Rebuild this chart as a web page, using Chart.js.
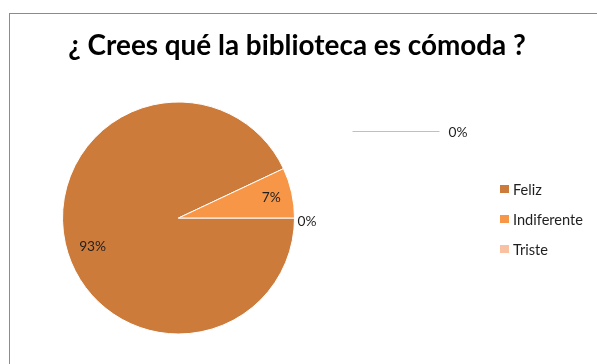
<!DOCTYPE html>
<html>
<head>
<meta charset="utf-8">
<script src="https://cdn.jsdelivr.net/npm/chart.js@4/dist/chart.umd.min.js"></script>
<style>
  html, body { margin: 0; padding: 0; background: #ffffff; }
  #frame { position: absolute; left: 9px; top: 13px; width: 600px; height: 360px;
           border-left: 1px solid #8c8c8c; border-top: 1px solid #8c8c8c; }
  #c { position: absolute; left: 0; top: 0; }
</style>
</head>
<body>
<div id="frame"></div>
<canvas id="c" width="597" height="364"></canvas>
<script>
const titleText = '¿ Crees qué la biblioteca es cómoda ?';
const categories = ['Feliz', 'Indiferente', 'Triste'];
const values = [93, 7, 0];
const sliceColors = ['#CD7B3A', '#F79646', '#F9C0A2'];

const FONT = 'Lato, "Open Sans", sans-serif';

function fitSize(ctx, text, weight, target) {
  ctx.font = weight + ' 100px ' + FONT;
  return 100 * target / ctx.measureText(text).width;
}

const decorPlugin = {
  id: 'decor',
  afterDatasetsDraw(chart) {
    const ctx = chart.ctx;
    const meta = chart.getDatasetMeta(0);
    const data = chart.data.datasets[0].data;
    const total = data.reduce((a, b) => a + b, 0);
    ctx.save();

    // Title
    const tSize = fitSize(ctx, titleText, 'bold', 458);
    ctx.font = 'bold ' + tSize.toFixed(2) + 'px ' + FONT;
    ctx.fillStyle = '#000000';
    ctx.textAlign = 'center';
    ctx.textBaseline = 'alphabetic';
    ctx.fillText(titleText, 297, 55);

    // Data labels
    const lSize = fitSize(ctx, '93%', 'normal', 27);
    ctx.font = lSize.toFixed(2) + 'px ' + FONT;
    ctx.fillStyle = '#1f1f1f';
    ctx.textBaseline = 'middle';
    meta.data.forEach((arc, i) => {
      const p = arc.getProps(['x', 'y', 'startAngle', 'endAngle', 'outerRadius'], true);
      const pct = Math.round(data[i] / total * 100) + '%';
      if (data[i] === 0) {
        ctx.textAlign = 'left';
        ctx.fillText(pct, p.x + p.outerRadius + 3, p.y + 4);
        // second label with leader line (as in the reference)
        ctx.strokeStyle = '#F3B08C';
        ctx.lineWidth = 1.2;
        ctx.beginPath();
        ctx.moveTo(p.x + 174, p.y - 86.5);
        ctx.lineTo(p.x + 261, p.y - 86.5);
        ctx.stroke();
        ctx.fillText(pct, p.x + 270, p.y - 85);
      } else {
        let mid = (p.startAngle + p.endAngle) / 2;
        let k = 0.82;
        if (i === 0) { mid -= 0.1; k = 0.78; }
        ctx.textAlign = 'center';
        ctx.fillText(pct, p.x + Math.cos(mid) * p.outerRadius * k,
                          p.y + Math.sin(mid) * p.outerRadius * k);
      }
    });

    // Legend
    const gSize = fitSize(ctx, 'Indiferente', 'normal', 70);
    ctx.font = gSize.toFixed(2) + 'px ' + FONT;
    ctx.textAlign = 'left';
    ctx.textBaseline = 'middle';
    chart.data.labels.forEach((lab, i) => {
      const y = 189 + i * 30;
      ctx.fillStyle = sliceColors[i];
      ctx.fillRect(500, y - 4, 9, 8);
      ctx.fillStyle = '#1f1f1f';
      ctx.fillText(lab, 513, y + 1);
    });
    ctx.restore();
  }
};

new Chart(document.getElementById('c'), {
  type: 'pie',
  data: {
    labels: categories,
    datasets: [{
      data: values,
      backgroundColor: sliceColors,
      borderColor: '#ffffff',
      borderWidth: 1
    }]
  },
  options: {
    responsive: false,
    animation: false,
    rotation: 90,
    layout: { padding: { left: 62, right: 302, top: 101, bottom: 29 } },
    plugins: {
      legend: { display: false },
      title: { display: false },
      tooltip: { enabled: false }
    }
  },
  plugins: [decorPlugin]
});
</script>
</body>
</html>
